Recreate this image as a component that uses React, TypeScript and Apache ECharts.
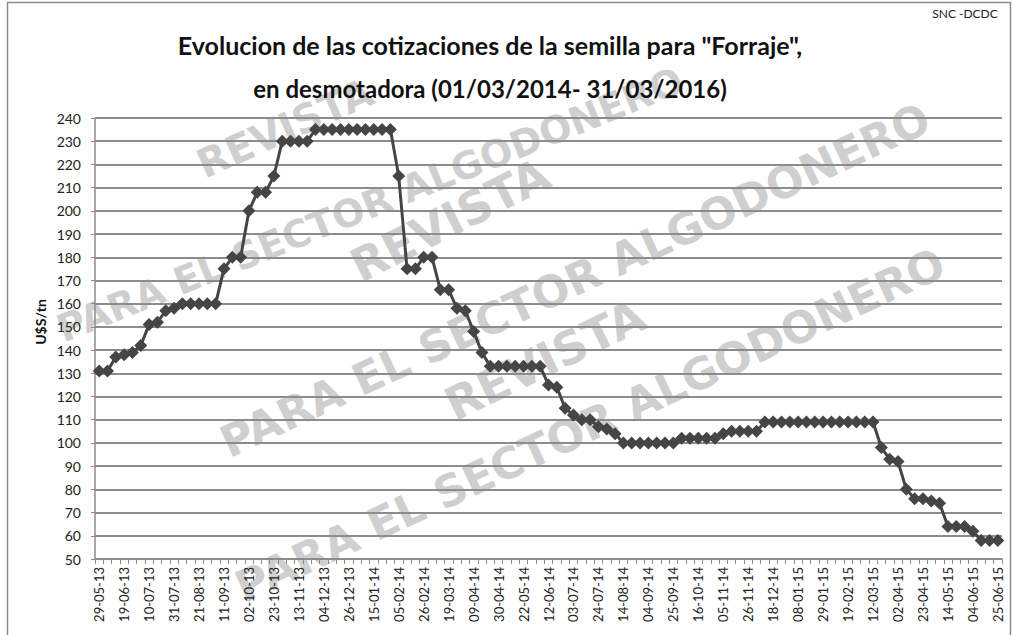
import React, { useEffect, useRef } from "react";
import * as echarts from "echarts";

const dates = [
  "29-05-13", "05-06-13", "12-06-13",
  "19-06-13", "26-06-13", "03-07-13",
  "10-07-13", "17-07-13", "24-07-13",
  "31-07-13", "07-08-13", "14-08-13",
  "21-08-13", "28-08-13", "04-09-13",
  "11-09-13", "18-09-13", "25-09-13",
  "02-10-13", "09-10-13", "16-10-13",
  "23-10-13", "30-10-13", "06-11-13",
  "13-11-13", "20-11-13", "27-11-13",
  "04-12-13", "11-12-13", "18-12-13",
  "26-12-13", "02-01-14", "08-01-14",
  "15-01-14", "22-01-14", "29-01-14",
  "05-02-14", "12-02-14", "19-02-14",
  "26-02-14", "05-03-14", "12-03-14",
  "19-03-14", "26-03-14", "02-04-14",
  "09-04-14", "16-04-14", "23-04-14",
  "30-04-14", "07-05-14", "14-05-14",
  "22-05-14", "29-05-14", "05-06-14",
  "12-06-14", "19-06-14", "26-06-14",
  "03-07-14", "10-07-14", "17-07-14",
  "24-07-14", "31-07-14", "07-08-14",
  "14-08-14", "21-08-14", "28-08-14",
  "04-09-14", "11-09-14", "18-09-14",
  "25-09-14", "02-10-14", "09-10-14",
  "16-10-14", "23-10-14", "30-10-14",
  "05-11-14", "12-11-14", "19-11-14",
  "26-11-14", "03-12-14", "10-12-14",
  "18-12-14", "23-12-14", "30-12-14",
  "08-01-15", "15-01-15", "22-01-15",
  "29-01-15", "05-02-15", "12-02-15",
  "19-02-15", "26-02-15", "05-03-15",
  "12-03-15", "19-03-15", "26-03-15",
  "02-04-15", "09-04-15", "16-04-15",
  "23-04-15", "30-04-15", "07-05-15",
  "14-05-15", "21-05-15", "28-05-15",
  "04-06-15", "11-06-15", "18-06-15",
  "25-06-15",
];

const prices = [
  131, 131, 137,
  138, 139, 142,
  151, 152, 157,
  158, 160, 160,
  160, 160, 160,
  175, 180, 180,
  200, 208, 208,
  215, 230, 230,
  230, 230, 235,
  235, 235, 235,
  235, 235, 235,
  235, 235, 235,
  215, 175, 175,
  180, 180, 166,
  166, 158, 157,
  148, 139, 133,
  133, 133, 133,
  133, 133, 133,
  125, 124, 115,
  112, 110, 110,
  107, 106, 104,
  100, 100, 100,
  100, 100, 100,
  100, 102, 102,
  102, 102, 102,
  104, 105, 105,
  105, 105, 109,
  109, 109, 109,
  109, 109, 109,
  109, 109, 109,
  109, 109, 109,
  109, 98, 93,
  92, 80, 76,
  76, 75, 74,
  64, 64, 64,
  62, 58, 58,
  58,
];

const titleLines = [
  'Evolucion de las cotizaciones de la semilla para "Forraje",',
  "en desmotadora (01/03/2014- 31/03/2016)",
];
const sourceText = "SNC -DCDC";
const yAxisTitle = "U$S/tn";
const watermarkA = "REVISTA";
const watermarkB = "PARA EL SECTOR ALGODONERO";

const FONT = "Lato, 'Open Sans', sans-serif";
const WM_FONT = "'DejaVu Sans', sans-serif";
const LINE_COLOR = "#454545";
const GRID_COLOR = "#8c8c8c";
const WM_COLOR = "rgba(165,165,165,0.55)";

export default function App() {
  const ref = useRef<HTMLDivElement>(null);

  useEffect(() => {
    document.body.style.margin = "0";
    if (!ref.current) return;
    const chart = echarts.init(ref.current, undefined, { renderer: "svg" });

    const wm = (text: string, x: number, y: number, rot: number, size: number) => ({
      type: "text",
      x,
      y,
      rotation: rot,
      z: -10,
      silent: true,
      style: {
        text,
        fill: WM_COLOR,
        font: `bold ${size}px ${WM_FONT}`,
        align: "center",
        verticalAlign: "middle",
      },
    });

    const r = (deg: number) => (deg * Math.PI) / 180;

    chart.setOption({
      animation: false,
      backgroundColor: "#ffffff",
      textStyle: { fontFamily: FONT },
      grid: { left: 95, right: 11, top: 118, bottom: 76 },
      xAxis: {
        type: "category",
        data: dates,
        boundaryGap: true,
        axisLine: { lineStyle: { color: GRID_COLOR, width: 1.5 } },
        axisTick: { show: true, interval: 0, length: 5, lineStyle: { color: GRID_COLOR } },
        axisLabel: {
          interval: 2,
          rotate: 90,
          fontSize: 13,
          color: "#222",
          fontFamily: FONT,
          margin: 8,
        },
        splitLine: { show: false },
      },
      yAxis: {
        type: "value",
        min: 50,
        max: 240,
        interval: 10,
        axisLine: { show: true, lineStyle: { color: GRID_COLOR, width: 1.5 } },
        axisTick: { show: true, length: 4, lineStyle: { color: GRID_COLOR } },
        axisLabel: { fontSize: 14, color: "#222", fontFamily: FONT, margin: 14 },
        splitLine: { show: true, lineStyle: { color: GRID_COLOR, width: 2 } },
      },
      series: [
        {
          type: "line",
          data: prices,
          symbol: "diamond",
          symbolSize: 13,
          showAllSymbol: true,
          lineStyle: { color: LINE_COLOR, width: 3 },
          itemStyle: { color: LINE_COLOR },
          z: 5,
        },
      ],
      graphic: [
        {
          type: "rect",
          shape: { x: 7.5, y: 2.5, width: 1003, height: 640 },
          style: { fill: "none", stroke: "#8a8a8a", lineWidth: 1.5 },
          z: -20,
          silent: true,
        },
        wm(watermarkA, 285, 128, r(24), 40),
        wm(watermarkB, 370, 205, r(22), 38),
        wm(watermarkA, 450, 220, r(27), 46),
        wm(watermarkB, 575, 280, r(25), 44),
        wm(watermarkA, 545, 360, r(26), 46),
        wm(watermarkB, 590, 425, r(25), 44),
        {
          type: "text",
          x: 490,
          y: 45,
          style: {
            text: titleLines[0],
            font: `bold 25px ${FONT}`,
            fill: "#111",
            align: "center",
            verticalAlign: "middle",
          },
        },
        {
          type: "text",
          x: 490,
          y: 88,
          style: {
            text: titleLines[1],
            font: `bold 24px ${FONT}`,
            fill: "#111",
            align: "center",
            verticalAlign: "middle",
          },
        },
        {
          type: "text",
          x: 965,
          y: 13,
          style: {
            text: sourceText,
            font: `12px ${FONT}`,
            fill: "#222",
            align: "center",
            verticalAlign: "middle",
          },
        },
        {
          type: "text",
          x: 40,
          y: 322,
          rotation: Math.PI / 2,
          style: {
            text: yAxisTitle,
            font: `bold 14px ${FONT}`,
            fill: "#111",
            align: "center",
            verticalAlign: "middle",
          },
        },
      ],
    });

    return () => chart.dispose();
  }, []);

  return <div ref={ref} style={{ width: 1013, height: 635 }} />;
}
